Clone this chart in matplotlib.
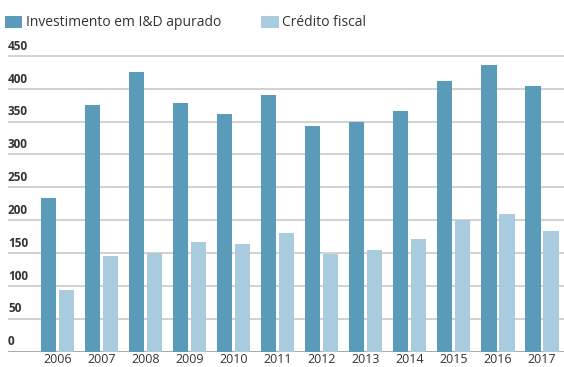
import numpy as np
import matplotlib
matplotlib.use("Agg")
import matplotlib.pyplot as plt

anos = ["2006", "2007", "2008", "2009", "2010", "2011",
        "2012", "2013", "2014", "2015", "2016", "2017"]
investimento = [233, 376, 426, 379, 361, 391, 344, 350, 366, 412, 436, 404]
credito = [93, 145, 150, 167, 163, 181, 148, 155, 171, 200, 209, 183]
yticks = [0, 50, 100, 150, 200, 250, 300, 350, 400, 450]

cor_inv = "#5b9bba"
cor_cred = "#a9cbde"

plt.rcParams['font.family'] = ['Open Sans', 'DejaVu Sans']

W, H = 564, 367
fig = plt.figure(figsize=(W / 100, H / 100), dpi=100)

# axes placed in pixels: 0 at y=351.5, 0.6567 px per unit
left_px, right_px = 8, 564
zero_px = 351.5
ymax = 460
top_px = zero_px - ymax * 0.6567
ax = fig.add_axes([left_px / W, 1 - zero_px / H,
                   (right_px - left_px) / W, (zero_px - top_px) / H])

x = np.arange(len(anos))
off = 0.2045
w = 0.355
b1 = ax.bar(x - off, investimento, w, color=cor_inv, zorder=3,
            label="Investimento em I&D apurado")
b2 = ax.bar(x + off, credito, w, color=cor_cred, zorder=3,
            label="Crédito fiscal")

ax.set_ylim(0, ymax)
ax.set_xlim((left_px - 57.4) / 44.03, (right_px - 57.4) / 44.03)

for t in yticks:
    col = "#9a9a9a" if t == 0 else "#c9c9c9"
    ax.axhline(t, color=col, lw=1.2, zorder=1)
    ax.text(0.0, t + 5, str(t), transform=ax.get_yaxis_transform(),
            ha="left", va="bottom", fontsize=8.5, fontweight="bold",
            color="#333333")

ax.set_yticks([])
ax.set_xticks(x)
ax.set_xticklabels(anos, fontsize=9, color="#333333")
ax.tick_params(axis="x", length=0, pad=1)
for s in ax.spines.values():
    s.set_visible(False)

leg = fig.legend(handles=[b1, b2], loc="center left",
                 bbox_to_anchor=(5 / W, 1 - 23 / H), ncol=2, frameon=False,
                 fontsize=10, handlelength=1.25, handleheight=0.95,
                 handletextpad=0.25, columnspacing=2.9, borderaxespad=0,
                 borderpad=0)
for t in leg.get_texts():
    t.set_color("#333333")

fig.savefig("out.png", dpi=100)
